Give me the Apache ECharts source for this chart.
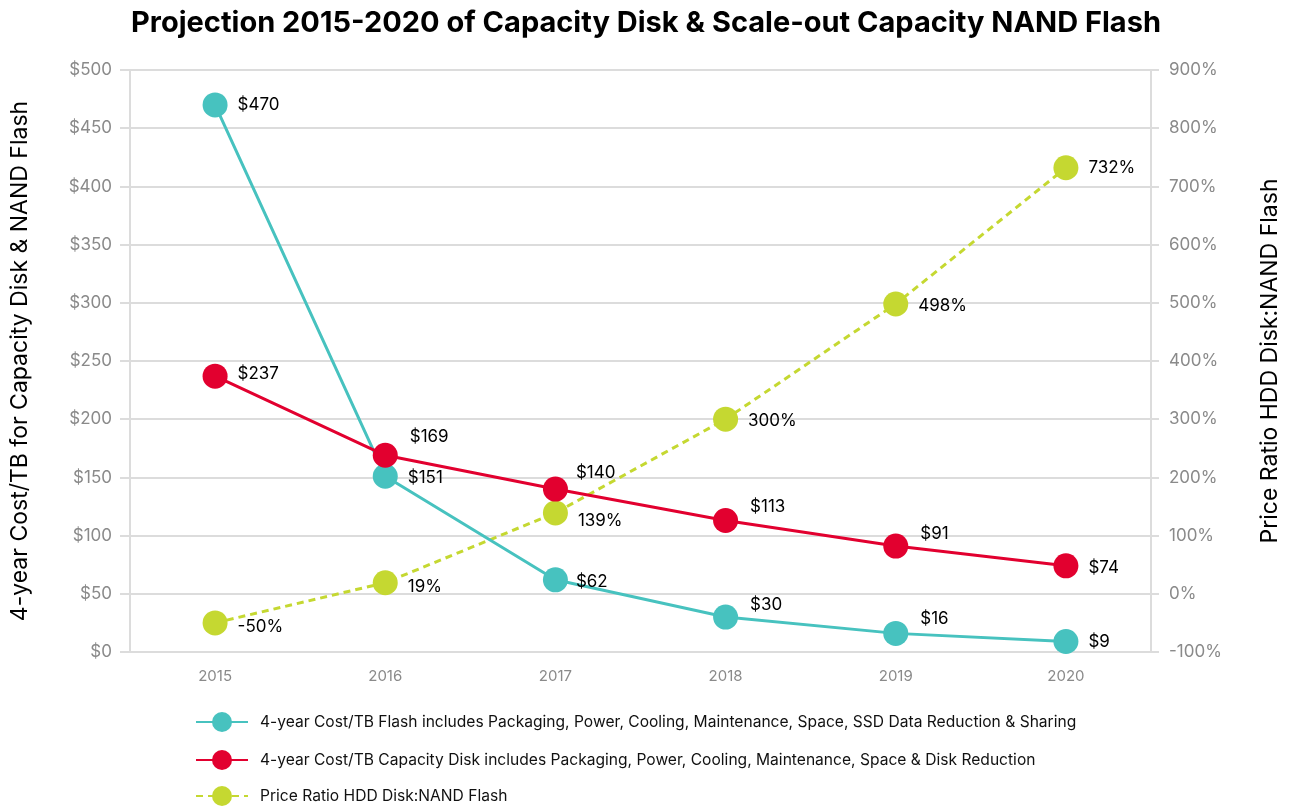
<!DOCTYPE html>
<html>
<head>
<meta charset="utf-8">
<script src="https://cdn.jsdelivr.net/npm/echarts@6/dist/echarts.min.js"></script>
<style>
  html, body { margin: 0; padding: 0; background: #fff; }
  #chart { width: 1292px; height: 806px; }
</style>
</head>
<body>
<div id="chart"></div>
<script>
const years = ['2015', '2016', '2017', '2018', '2019', '2020']
const flashCost = [470, 151, 62, 30, 16, 9]
const diskCost = [237, 169, 140, 113, 91, 74]
const priceRatio = [-50, 19, 139, 300, 498, 732]

const flashName = '4-year Cost/TB Flash includes Packaging, Power, Cooling, Maintenance, Space, SSD Data Reduction & Sharing'
const diskName = '4-year Cost/TB Capacity Disk includes Packaging, Power, Cooling, Maintenance, Space & Disk Reduction'
const ratioName = 'Price Ratio HDD Disk:NAND Flash'

// label nudges per point [dx, dy]
const flashOffsets = [[4, 0], [4, 2], [2, 2], [6, -12], [6, -14], [4, 0]]
const diskOffsets = [[4, -2], [6, -18], [2, -16], [6, -14], [6, -12], [4, 2]]
const ratioOffsets = [[4, 4], [4, 4], [4, 8], [4, 2], [4, 2], [4, 0]]

const teal = '#47C2BF'
const red = '#E2002F'
const lime = '#C5D831'

function withLabels(values, offsets) {
  return values.map((v, i) => ({ value: v, label: { offset: offsets[i] } }))
}

const chart = echarts.init(document.getElementById('chart'))
const gridColor = '#dcdcdc'
const tickText = { color: '#8a8a8a', fontSize: 17, fontFamily: 'Inter' }

function legendRow(name, top) {
  return {
    orient: 'vertical',
    left: 190,
    top: top,
    itemWidth: 52,
    itemHeight: 25,
    textStyle: { fontSize: 15.6, color: '#111', fontFamily: 'Inter', padding: [0, 0, 0, 7] },
    data: [name]
  }
}

chart.setOption({
  animation: false,
  textStyle: { fontFamily: 'Inter' },
  title: {
    text: 'Projection 2015-2020 of Capacity Disk & Scale-out Capacity NAND Flash',
    left: 'center',
    top: 4,
    textStyle: { fontSize: 29, fontWeight: 'bold', color: '#000', fontFamily: 'Inter' }
  },
  grid: { left: 130, right: 141, top: 70, bottom: 154 },
  legend: [
    legendRow(flashName, 707),
    legendRow(diskName, 745),
    legendRow(ratioName, 781)
  ],
  xAxis: {
    type: 'category',
    data: years,
    axisLine: { lineStyle: { color: gridColor, width: 2 } },
    axisTick: { length: 8, lineStyle: { color: gridColor, width: 2 } },
    axisLabel: Object.assign({ margin: 17 }, tickText, { fontSize: 15 })
  },
  yAxis: [
    {
      type: 'value',
      min: 0,
      max: 500,
      interval: 50,
      name: '4-year Cost/TB for Capacity Disk & NAND Flash',
      nameLocation: 'middle',
      nameGap: 98,
      nameTextStyle: { fontSize: 23, color: '#000', fontFamily: 'Inter' },
      axisLine: { show: true, lineStyle: { color: gridColor, width: 2 } },
      axisTick: { show: true, length: 10, lineStyle: { color: gridColor, width: 2 } },
      axisLabel: Object.assign({ margin: 18, formatter: '${value}' }, tickText),
      splitLine: { lineStyle: { color: gridColor, width: 2 } }
    },
    {
      type: 'value',
      min: -100,
      max: 900,
      interval: 100,
      name: 'Price Ratio HDD Disk:NAND Flash',
      nameLocation: 'middle',
      nameGap: 108,
      nameTextStyle: { fontSize: 23, color: '#000', fontFamily: 'Inter' },
      axisLine: { show: true, lineStyle: { color: gridColor, width: 2 } },
      axisTick: { show: true, length: 8, lineStyle: { color: gridColor, width: 2 } },
      axisLabel: Object.assign({ margin: 18, formatter: '{value}%' }, tickText),
      splitLine: { show: false }
    }
  ],
  series: [
    {
      name: flashName,
      type: 'line',
      yAxisIndex: 0,
      data: withLabels(flashCost, flashOffsets),
      symbol: 'circle',
      symbolSize: 25,
      lineStyle: { color: teal, width: 3 },
      itemStyle: { color: teal },
      label: { show: true, position: 'right', distance: 6, fontSize: 17, color: '#000', formatter: '${c}' },
      z: 3
    },
    {
      name: diskName,
      type: 'line',
      yAxisIndex: 0,
      data: withLabels(diskCost, diskOffsets),
      symbol: 'circle',
      symbolSize: 25,
      lineStyle: { color: red, width: 3 },
      itemStyle: { color: red },
      label: { show: true, position: 'right', distance: 6, fontSize: 17, color: '#000', formatter: '${c}' },
      z: 4
    },
    {
      name: ratioName,
      type: 'line',
      yAxisIndex: 1,
      data: withLabels(priceRatio, ratioOffsets),
      symbol: 'circle',
      symbolSize: 25,
      lineStyle: { color: lime, width: 3, type: [7, 5] },
      itemStyle: { color: lime },
      label: { show: true, position: 'right', distance: 6, fontSize: 17, color: '#000', formatter: '{c}%' },
      z: 2
    }
  ]
})
</script>
</body>
</html>
